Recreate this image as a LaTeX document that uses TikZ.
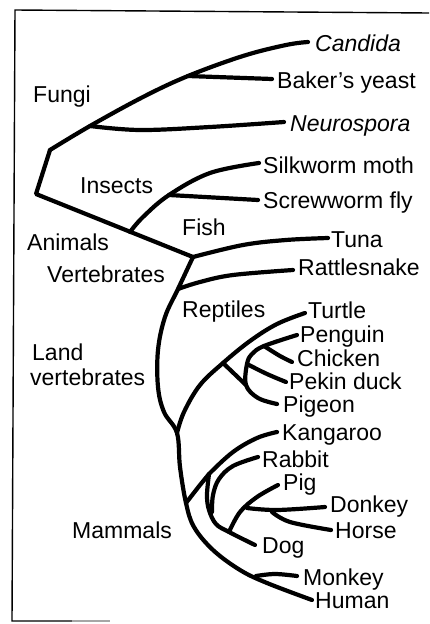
\documentclass[tikz,border=0pt]{standalone}
\usepackage{fontspec}
\setmainfont{Liberation Sans}
\begin{document}
\begin{tikzpicture}[x=1pt,y=-1pt,
  br/.style={line width=4.2pt, line cap=round, line join=round},
  lab/.style={anchor=base west, inner sep=0pt, font=\fontsize{23}{26}\selectfont},
  framel/.style={line width=1.4pt}]
\useasboundingbox (0,0) rectangle (429,624);
% frame
\coordinate (fTL) at (15,10);
\coordinate (fTR) at (429,13);
\coordinate (fBL) at (12,621);
\coordinate (fB1) at (72,621);
\coordinate (fB2) at (110,621);
\draw[framel] (fTR) -- (fTL) -- (fBL) -- (fB1);
\draw[framel, black!35] (fB1) -- (fB2);
% key points
\coordinate (root) at (36,194);
\coordinate (f0) at (50,150);
\coordinate (fn) at (90,126);
\coordinate (fb) at (188,76);
\coordinate (V) at (193,257);
\coordinate (ins) at (130,232);
\coordinate (ins2) at (169,195);
\coordinate (rat) at (178,289);
\coordinate (J) at (177,433);
\coordinate (bd0) at (223,363);
\coordinate (bd1) at (246,385);
\coordinate (ch0) at (264,346);
\coordinate (pk0) at (247,364);
\coordinate (kg0) at (186,503);
\coordinate (rd0) at (209,474);
\coordinate (pg0) at (229,532);
\coordinate (dk0) at (247,508);
\coordinate (hs0) at (272,512);
\coordinate (mk0) at (256,576);
% end points
\coordinate (eCand) at (308,42);
\coordinate (eBak) at (272,79);
\coordinate (eNeu) at (284,122);
\coordinate (eSilk) at (259,163);
\coordinate (eScr) at (258,200);
\coordinate (eTuna) at (328,238);
\coordinate (eRat) at (293,270);
\coordinate (eTur) at (305,313);
\coordinate (ePen) at (297,335);
\coordinate (eChi) at (292,362);
\coordinate (ePek) at (286,382);
\coordinate (ePig) at (277,404);
\coordinate (eKan) at (277,432);
\coordinate (eRab) at (258,457);
\coordinate (ePg) at (278,485);
\coordinate (eDon) at (325,507);
\coordinate (eHor) at (331,530);
\coordinate (eDog) at (255,545);
\coordinate (eMon) at (297,576);
\coordinate (eHum) at (312,600);
% labels
\node[lab] (tCand) at (315,51) {\itshape Candida};
\node[lab] (tBak) at (277,88) {Baker's yeast};
\node[lab] (tFungi) at (33,102) {Fungi};
\node[lab] (tNeu) at (290,131) {\itshape Neurospora};
\node[lab] (tSilk) at (263,173) {Silkworm moth};
\node[lab] (tScr) at (263,208) {Screwworm fly};
\node[lab] (tIns) at (80,193) {Insects};
\node[lab] (tFish) at (182,235) {Fish};
\node[lab] (tAni) at (27,250) {Animals};
\node[lab] (tVert) at (47,282) {Vertebrates};
\node[lab] (tTuna) at (331,247) {Tuna};
\node[lab] (tRat) at (298,275) {Rattlesnake};
\node[lab] (tRep) at (182,317) {Reptiles};
\node[lab] (tTur) at (308,318) {Turtle};
\node[lab] (tPen) at (300,342) {Penguin};
\node[lab] (tChi) at (297,366) {Chicken};
\node[lab] (tPek) at (289,389) {Pekin duck};
\node[lab] (tPig) at (283,412) {Pigeon};
\node[lab] (tLand) at (32,360) {Land};
\node[lab] (tLv) at (30,385) {vertebrates};
\node[lab] (tKan) at (282,440) {Kangaroo};
\node[lab] (tRab) at (262,467) {Rabbit};
\node[lab] (tPg) at (283,490) {Pig};
\node[lab] (tDon) at (330,512) {Donkey};
\node[lab] (tHor) at (335,538) {Horse};
\node[lab] (tMam) at (72,538) {Mammals};
\node[lab] (tDog) at (262,553) {Dog};
\node[lab] (tMon) at (303,585) {Monkey};
\node[lab] (tHum) at (315,608) {Human};
% branches
\draw[br] (V) -- (root) -- (f0);
\draw[br] plot[smooth, tension=0.6] coordinates {(f0) (fn) (143,97) (fb) (243,56) (286,45) (eCand)};
\draw[br] (fb) -- (eBak);
\draw[br] plot[smooth, tension=0.6] coordinates {(fn) (140,130) (210,127) (eNeu)};
\draw[br] plot[smooth, tension=0.6] coordinates {(ins) (143,217) (ins2) (210,173) (eSilk)};
\draw[br] (ins2) -- (eScr);
\draw[br] plot[smooth, tension=0.6] coordinates {(V) (243,245) (286,240) (eTuna)};
\draw[br] plot[smooth, tension=0.6] coordinates {(rat) (200,282) (233,275) (eRat)};
\draw[br] plot[smooth, tension=0.6] coordinates {(V) (rat) (165,317) (158,350) (158,387) (164,412) (J) (180,467) (kg0) (194,527) (213,550) (240,570) (267,583) (eHum)};
\draw[br] plot[smooth, tension=0.6] coordinates {(J) (184,412) (200,385) (bd0) (250,341) (277,324) (eTur)};
\draw[br] (bd0) -- (bd1);
\draw[br] plot[smooth, tension=0.6] coordinates {(ePen) (ch0) (252,354) (pk0) (bd1) (258,398) (ePig)};
\draw[br] plot[smooth, tension=0.6] coordinates {(ch0) (280,356) (eChi)};
\draw[br] plot[smooth, tension=0.6] coordinates {(pk0) (267,374) (ePek)};
\draw[br] plot[smooth, tension=0.6] coordinates {(kg0) (200,485) (rd0) (233,452) (257,438) (eKan)};
\draw[br] plot[smooth, tension=0.6] coordinates {(rd0) (207,495) (209,510) (216,524) (pg0) (eDog)};
\draw[br] plot[smooth, tension=0.6] coordinates {(eRab) (233,466) (219,479) (213,495) (212,512)};
\draw[br] plot[smooth, tension=0.6] coordinates {(pg0) (240,512) (257,497) (ePg)};
\draw[br] plot[smooth, tension=0.6] coordinates {(dk0) (277,510) (eDon)};
\draw[br] plot[smooth, tension=0.6] coordinates {(hs0) (290,522) (eHor)};
\draw[br] plot[smooth, tension=0.6] coordinates {(mk0) (275,574) (eMon)};
\end{tikzpicture}
\end{document}
